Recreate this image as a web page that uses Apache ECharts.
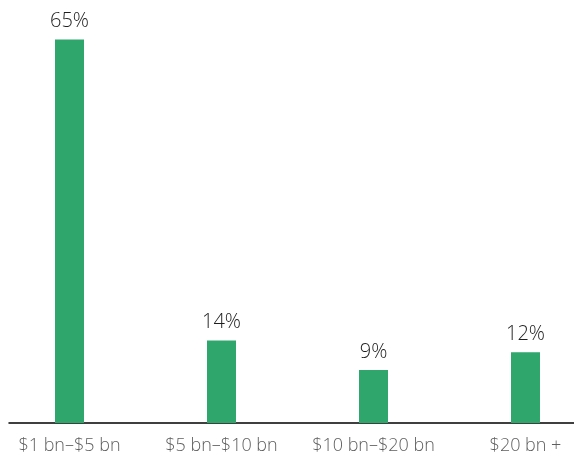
<!DOCTYPE html>
<html>
<head>
<meta charset="utf-8">
<script src="https://cdn.jsdelivr.net/npm/echarts@6/dist/echarts.min.js"></script>
<style>
  html, body { margin: 0; padding: 0; background: #fff; }
  #main { width: 574px; height: 458px; }
</style>
</head>
<body>
<div id="main"></div>
<script>
var categories = ['$1 bn\u2013$5 bn', '$5 bn\u2013$10 bn', '$10 bn\u2013$20 bn', '$20 bn +'];
var shares = [65, 14, 9, 12];

var myChart = echarts.init(document.getElementById('main'), null, { renderer: 'canvas' });

var option = {
  animation: false,
  textStyle: { fontFamily: '"Open Sans", sans-serif' },
  grid: [
    { left: 69.5, right: 48.5, top: 10, bottom: 35 },
    // wider grid only to draw the baseline across the full width
    { left: 9, right: 0, top: 10, bottom: 35 }
  ],
  xAxis: [
    {
      type: 'category',
      gridIndex: 0,
      data: categories,
      boundaryGap: false,
      axisLine: { show: false },
      axisTick: { show: false },
      axisLabel: {
        interval: 0,
        hideOverlap: false,
        color: '#5e5e5e',
        fontSize: 18,
        fontWeight: 300,
        margin: 14
      }
    },
    {
      type: 'value',
      gridIndex: 1,
      axisLine: { show: true, onZero: false, lineStyle: { color: '#000', width: 1.5 } },
      axisTick: { show: false },
      axisLabel: { show: false },
      splitLine: { show: false }
    }
  ],
  yAxis: [
    { type: 'value', gridIndex: 0, min: 0, max: 70, show: false },
    { type: 'value', gridIndex: 1, min: 0, max: 70, show: false }
  ],
  series: [
    {
      type: 'bar',
      xAxisIndex: 0,
      yAxisIndex: 0,
      data: shares,
      barWidth: 29,
      itemStyle: { color: '#2ea66c' },
      label: {
        show: true,
        position: 'top',
        distance: 8,
        color: '#1e1e1e',
        fontSize: 20,
        fontWeight: 300,
        formatter: '{c}%'
      }
    }
  ]
};

myChart.setOption(option);
window.addEventListener('resize', myChart.resize);
</script>
</body>
</html>
